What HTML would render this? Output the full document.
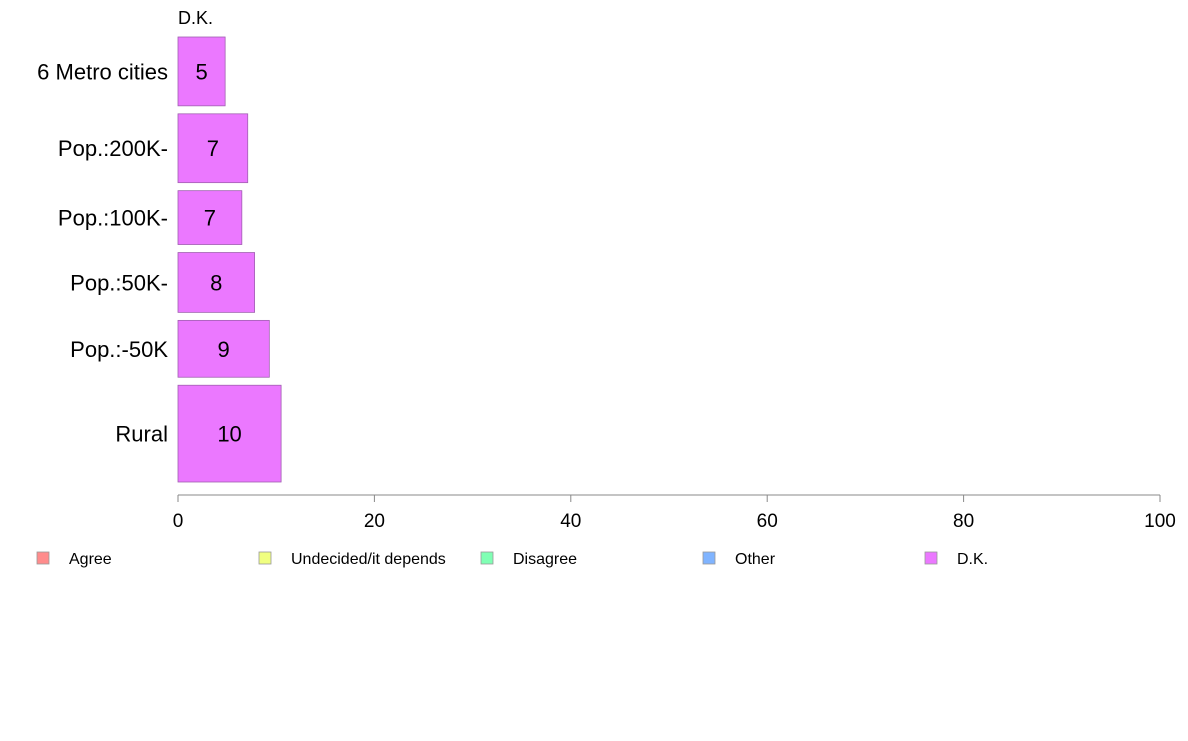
<!DOCTYPE html>
<html><head><meta charset="utf-8"><style>
body{margin:0;background:#fff;}
svg text{font-family:"Liberation Sans",Arial,sans-serif;fill:#000;}
</style></head><body>
<svg id="chart" width="1188" height="736" xmlns="http://www.w3.org/2000/svg"></svg>
<script>
const categories = ["6 Metro cities","Pop.:200K-","Pop.:100K-","Pop.:50K-","Pop.:-50K","Rural"];
const dkValues = [4.8, 7.1, 6.5, 7.8, 9.3, 10.5];
const dkLabels = ["5","7","7","8","9","10"];
const rowShares = [69, 69, 54, 60, 57, 97];
const xTicks = [0,20,40,60,80,100];
const legendItems = ["Agree","Undecided/it depends","Disagree","Other","D.K."];
const legendColors = ["#FF8C8C","#F0FF80","#80FFB4","#80B4FF","#EB78FF"];

const svg = document.getElementById('chart');
const NS = "http://www.w3.org/2000/svg";
function mk(tag, attrs, parent){const e=document.createElementNS(NS,tag);for(const k in attrs)e.setAttribute(k,attrs[k]);(parent||svg).appendChild(e);return e;}
const x0=178, x1=1160;
const xScale = v => x0 + v*(x1-x0)/100;
const yTop=37, yBot=482, gap=8;
const totalShare = rowShares.reduce((a,b)=>a+b,0);
const unit = (yBot-yTop-gap*(categories.length-1))/totalShare;

const t = mk('text',{x:xScale(0),y:24,'font-size':18});


t.textContent="D.K.";

let y=yTop;
categories.forEach((c,i)=>{
  const h=rowShares[i]*unit;
  const r=mk('rect',{x:xScale(0),y:y,width:xScale(dkValues[i])-xScale(0),height:h,fill:"#EB78FF",stroke:"#A060B0","stroke-width":0.8});
  
  
  const v=mk('text',{x:(xScale(0)+xScale(dkValues[i]))/2,y:y+h/2+8,'font-size':22,'text-anchor':'middle'});
  
  
  v.textContent=dkLabels[i];
  const l=mk('text',{x:168,y:y+h/2+8,'font-size':22,'text-anchor':'end'});
  
  
  l.textContent=c;
  y+=h+gap;
});

const ax=mk('line',{x1:x0,x2:x1,y1:495,y2:495,stroke:"#888","stroke-width":1});


xTicks.forEach(tv=>{
  const tk=mk('line',{x1:xScale(tv),x2:xScale(tv),y1:495,y2:502,stroke:"#888","stroke-width":1});
  
  
  const tl=mk('text',{x:xScale(tv),y:527,'font-size':19,'text-anchor':'middle'});
  
  
  tl.textContent=tv;
});

legendItems.forEach((it,i)=>{
  const bx=37+i*222;
  const b=mk('rect',{x:bx,y:552,width:12,height:12,fill:legendColors[i],stroke:"#999","stroke-width":0.8});
  
  
  const lt=mk('text',{x:bx+32,y:564,'font-size':16});
  
  
  lt.textContent=it;
});
</script>
</body></html>
